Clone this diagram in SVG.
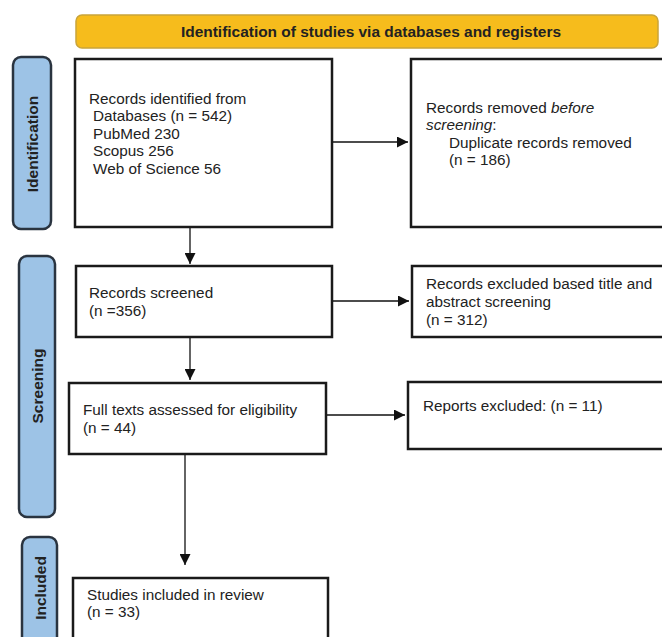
<svg xmlns="http://www.w3.org/2000/svg" width="662" height="637" viewBox="0 0 662 637">
<defs>
<style>
.box{fill:#fff;stroke:#1a1a1a;stroke-width:2.5}
.side{fill:#9DC3E6;stroke:#2a3440;stroke-width:2.5}
.t{font-family:"Liberation Sans",Arial,sans-serif;font-size:15.3px;fill:#222}
.lbl{font-family:"Liberation Sans",Arial,sans-serif;font-size:15.5px;font-weight:bold;fill:#222}
.edge{stroke:#111;stroke-width:1.3;fill:none}
</style>
<marker id="ah" viewBox="0 0 10 10" refX="10" refY="5" markerWidth="11" markerHeight="11" markerUnits="userSpaceOnUse" orient="auto">
<path d="M0,0 L10,5 L0,10 z" fill="#111"/>
</marker>
</defs>
<rect width="662" height="637" fill="#fff"/>
<g id="header">
<rect x="76" y="15" width="582" height="33" rx="6" fill="#F6BC1C" stroke="#C9A43A" stroke-width="1.5"/>
<text x="371" y="37" text-anchor="middle" class="lbl" style="font-size:15px" textLength="380" lengthAdjust="spacingAndGlyphs">Identification of studies via databases and registers</text>
</g>
<g id="label-identification">
<rect x="13" y="57" width="38" height="172" rx="8" class="side"/>
<text transform="translate(38,144) rotate(-90)" text-anchor="middle" class="lbl">Identification</text>
</g>
<g id="label-screening">
<rect x="19" y="256" width="36" height="261" rx="8" class="side"/>
<text transform="translate(43,386) rotate(-90)" text-anchor="middle" class="lbl">Screening</text>
</g>
<g id="label-included">
<rect x="22" y="537" width="35" height="110" rx="8" class="side"/>
<text transform="translate(46,588) rotate(-90)" text-anchor="middle" class="lbl">Included</text>
</g>
<g id="identified">
<rect x="75" y="59" width="257" height="168" class="box"/>
<text class="t"><tspan x="89" y="104">Records identified from</tspan><tspan x="93" y="121">Databases (n = 542)</tspan><tspan x="93" y="139">PubMed 230</tspan><tspan x="93" y="156">Scopus 256</tspan><tspan x="93" y="174">Web of Science 56</tspan></text>
</g>
<g id="removed">
<rect x="411" y="59" width="260" height="168" class="box"/>
<text class="t"><tspan x="426" y="113">Records removed <tspan font-style="italic">before</tspan></tspan><tspan x="426" y="130"><tspan font-style="italic">screening</tspan>:</tspan><tspan x="449" y="148">Duplicate records removed</tspan><tspan x="449" y="165">(n = 186)</tspan></text>
</g>
<g id="screened">
<rect x="76" y="266" width="256" height="71" class="box"/>
<text class="t"><tspan x="89" y="298">Records screened</tspan><tspan x="89" y="316">(n =356)</tspan></text>
</g>
<g id="excluded">
<rect x="412" y="266" width="260" height="71" class="box"/>
<text class="t"><tspan x="426" y="289">Records excluded based title and</tspan><tspan x="426" y="307">abstract screening</tspan><tspan x="426" y="325">(n = 312)</tspan></text>
</g>
<g id="fulltext">
<rect x="69" y="383" width="257" height="71" class="box"/>
<text class="t"><tspan x="83" y="415">Full texts assessed for eligibility</tspan><tspan x="83" y="433">(n = 44)</tspan></text>
</g>
<g id="reports">
<rect x="408" y="382" width="264" height="67" class="box"/>
<text class="t" x="423" y="411">Reports excluded: (n = 11)</text>
</g>
<g id="included">
<rect x="73" y="578" width="255" height="80" class="box"/>
<text class="t"><tspan x="87" y="600">Studies included in review</tspan><tspan x="87" y="617">(n = 33)</tspan></text>
</g>
<g id="connectors">
<line x1="333" y1="142" x2="408" y2="142" class="edge" marker-end="url(#ah)"/>
<line x1="190" y1="228" x2="190" y2="264" class="edge" marker-end="url(#ah)"/>
<line x1="333" y1="301" x2="409" y2="301" class="edge" marker-end="url(#ah)"/>
<line x1="190" y1="338" x2="190" y2="380" class="edge" marker-end="url(#ah)"/>
<line x1="327" y1="415" x2="405" y2="415" class="edge" marker-end="url(#ah)"/>
<line x1="185" y1="455" x2="185" y2="565" class="edge" marker-end="url(#ah)"/>
</g>
</svg>
